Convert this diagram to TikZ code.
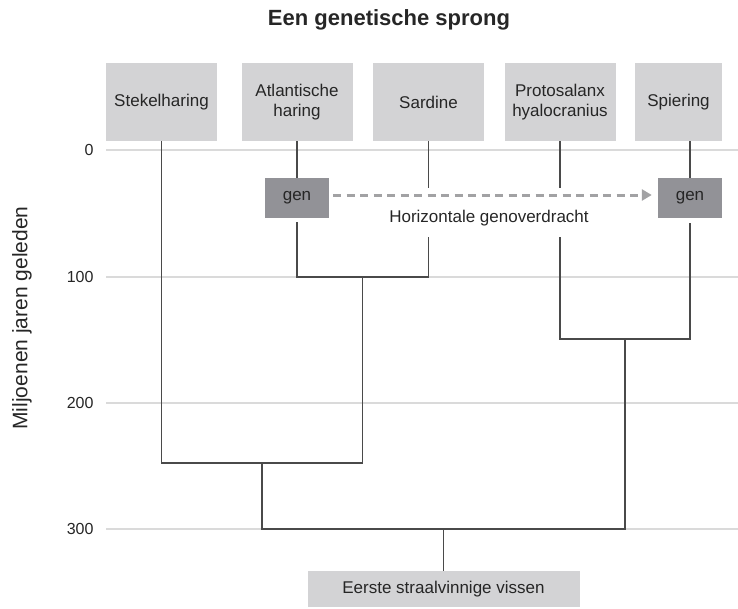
\documentclass[tikz,border=0pt]{standalone}
\usepackage{fontspec}
\setmainfont{Liberation Sans}
\usepackage{tikz}
\usetikzlibrary{arrows.meta}
\usetikzlibrary{positioning}

\definecolor{boxgrijs}{HTML}{D3D3D5}
\definecolor{gengrijs}{HTML}{929297}
\definecolor{taklijn}{HTML}{4A4A4A}
\definecolor{rasterlijn}{HTML}{DADADA}
\definecolor{pijlgrijs}{HTML}{A2A2A4}
\definecolor{tekst}{HTML}{262626}

\tikzset{
  soort/.style={fill=boxgrijs, minimum width=111pt, minimum height=78pt, inner sep=0pt,
    align=center, text=tekst, font=\fontsize{17}{20}\selectfont},
  genbox/.style={fill=gengrijs, minimum width=64pt, minimum height=40pt, inner sep=0pt,
    text=tekst, font=\fontsize{17}{20}\selectfont},
  tak/.style={draw=taklijn, line width=1.6pt},
  raster/.style={draw=rasterlijn, line width=1.2pt},
  schaal/.style={anchor=east, text=tekst, font=\fontsize{16}{19}\selectfont}
}

\begin{document}
\begin{tikzpicture}[x=1pt,y=-1pt]
    		\useasboundingbox (0,0) rectangle (738,608);
    		% Titel
    		\node[font=\bfseries\fontsize{22}{26}\selectfont, text=tekst] (titel) at (389,20) {Een genetische sprong};
    		\node[rotate=90, font=\fontsize{21}{25}\selectfont, text=tekst] (yas) at (22,318) {Miljoenen jaren geleden};
    		
    		% Rasterlijnen en schaal
    		\foreach \t/\y in {0/150,100/277,200/403,300/529} {
    		  \coordinate (r\t) at (106,\y);
    		  \draw[raster] (r\t) -- (738,\y);
    		  \node[schaal] (s\t) at (97,\y) {\t};
    		}
    		
    		% Soorten
    		\node[soort] (stek) at (161.5,102) {Stekelharing};
    		\node[soort] (atl) at (297,102) {Atlantische\\haring};
    		\node[soort] (sard) at (428.5,102) {Sardine};
    		\node[soort] (proto) at (560,102) {Protosalanx\\hyalocranius};
    		\node[soort, minimum width=87pt] (spier) at (678.5,102) {Spiering};
    		\node[soort, minimum width=272pt, minimum height=36pt] (wortel) at (443.5,589) {Eerste straalvinnige vissen};
    		
    		% Genen
    		\node[genbox] (genL) at (297,198) {gen};
    		\node[genbox] (genR) at (690,198) {gen};
    		
    		% Splitsingspunten
    		\coordinate (k1) at (362.5,277);
    		\coordinate (k2) at (625,339);
    		\coordinate (k3) at (262,463);
    		\coordinate (k4) at (443.5,529);
    		
    		% Takken
    		\draw[tak] (atl.south) -- (genL.north);
    		\draw[tak] ([yshift=-4pt]genL.south) |- (k1) -| (sard.south |- 0,237);
    		\draw[tak] (sard.south) -- (sard.south |- 0,188);
    		\draw[tak] (spier.south -| genR) -- (genR.north);
    		\draw[tak] ([yshift=-5pt]genR.south) |- (k2) -| (proto.south |- 0,237);
    		\draw[tak] (proto.south) -- (proto.south |- 0,188);
    		\draw[tak] (stek.south) |- (k3) -| (k1);
    		\draw[tak] (k3) |- (k4) -| (k2);
    		\draw[tak] (k4) -- (wortel.north);
    		
    		% Horizontale genoverdracht
    		\draw[pijlgrijs, line width=3pt, dash pattern=on 8pt off 5.5pt, -{Triangle[length=10pt,width=11pt]}]
    		  ([xshift=4pt,yshift=3pt]genL.east) -- ([xshift=-6pt,yshift=3pt]genR.west);
    		\node[text=tekst, font=\fontsize{17}{20}\selectfont] (hgo) at (489,218) {Horizontale genoverdracht};
    		
    		\end{tikzpicture}
\end{document}
